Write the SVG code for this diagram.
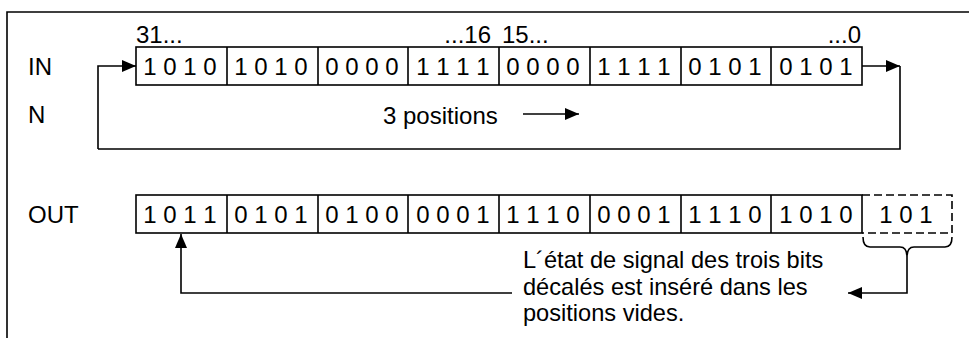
<svg xmlns="http://www.w3.org/2000/svg" width="969" height="338" viewBox="0 0 969 338">
<defs>
<style>
text{font-family:"Liberation Sans",Arial,sans-serif;font-size:24px;fill:#000}
.bits{text-anchor:middle}
.note{font-size:23.6px}
.cell{fill:#fff;stroke:#000;stroke-width:1.6}
.ln{fill:none;stroke:#000;stroke-width:1.6}
.dash{fill:none;stroke:#000;stroke-width:1.6;stroke-dasharray:8,4}
</style>
<marker id="ah" viewBox="0 0 14 12" refX="14" refY="6" markerWidth="14" markerHeight="12" markerUnits="userSpaceOnUse" orient="auto">
<path d="M0,0 L14,6 L0,12 Z" fill="#000"/>
</marker>
</defs>
<rect width="969" height="338" fill="#fff"/>
<path class="ln" d="M7,338 V12 H969"/>

<g id="labels">
<text x="28" y="75">IN</text>
<text x="28" y="123">N</text>
<text x="28" y="223">OUT</text>
<text x="136" y="43">31...</text>
<text x="491" y="43" text-anchor="end">...16</text>
<text x="502" y="43">15...</text>
<text x="861" y="43" text-anchor="end">...0</text>
<text x="383" y="124">3 positions</text>
</g>

<g id="in-register">
<rect class="cell" x="136" y="47" width="726" height="38"/>
<path class="ln" d="M227,47V85M318,47V85M408,47V85M499,47V85M590,47V85M681,47V85M771,47V85"/>
<text class="bits" x="180" y="75">1 0 1 0</text>
<text class="bits" x="271" y="75">1 0 1 0</text>
<text class="bits" x="362" y="75">0 0 0 0</text>
<text class="bits" x="453" y="75">1 1 1 1</text>
<text class="bits" x="543" y="75">0 0 0 0</text>
<text class="bits" x="634" y="75">1 1 1 1</text>
<text class="bits" x="725" y="75">0 1 0 1</text>
<text class="bits" x="816" y="75">0 1 0 1</text>
</g>

<g id="out-register">
<rect class="cell" x="136" y="195" width="726" height="38"/>
<path class="ln" d="M227,195V233M318,195V233M408,195V233M499,195V233M590,195V233M681,195V233M771,195V233"/>
<text class="bits" x="180" y="223">1 0 1 1</text>
<text class="bits" x="271" y="223">0 1 0 1</text>
<text class="bits" x="362" y="223">0 1 0 0</text>
<text class="bits" x="453" y="223">0 0 0 1</text>
<text class="bits" x="543" y="223">1 1 1 0</text>
<text class="bits" x="634" y="223">0 0 0 1</text>
<text class="bits" x="725" y="223">1 1 1 0</text>
<text class="bits" x="816" y="223">1 0 1 0</text>
</g>

<g id="overflow">
<path class="dash" d="M862,195 H952 V233 H862"/>
<text class="bits" x="906" y="223">1 0 1</text>
<path class="ln" d="M863,237 Q863,247 870,247 H900 Q907,247 907,257 Q907,247 914,247 H945 Q952,247 952,237"/>
</g>

<g id="note">
<text class="note" x="523" y="268">L´état de signal des trois bits</text>
<text class="note" x="523" y="294.5">décalés est inséré dans les</text>
<text class="note" x="523" y="321">positions vides.</text>
</g>

<g id="connectors">
<path class="ln" d="M98,149 V66 H136" marker-end="url(#ah)"/>
<path class="ln" d="M862,66 H900" marker-end="url(#ah)"/>
<path class="ln" d="M900,66 V149 H98"/>
<path class="ln" d="M523,114 H579" marker-end="url(#ah)"/>
<path class="ln" d="M512,293 H181 V234" marker-end="url(#ah)"/>
<path class="ln" d="M907,257 V293 H848" marker-end="url(#ah)"/>
</g>
</svg>
